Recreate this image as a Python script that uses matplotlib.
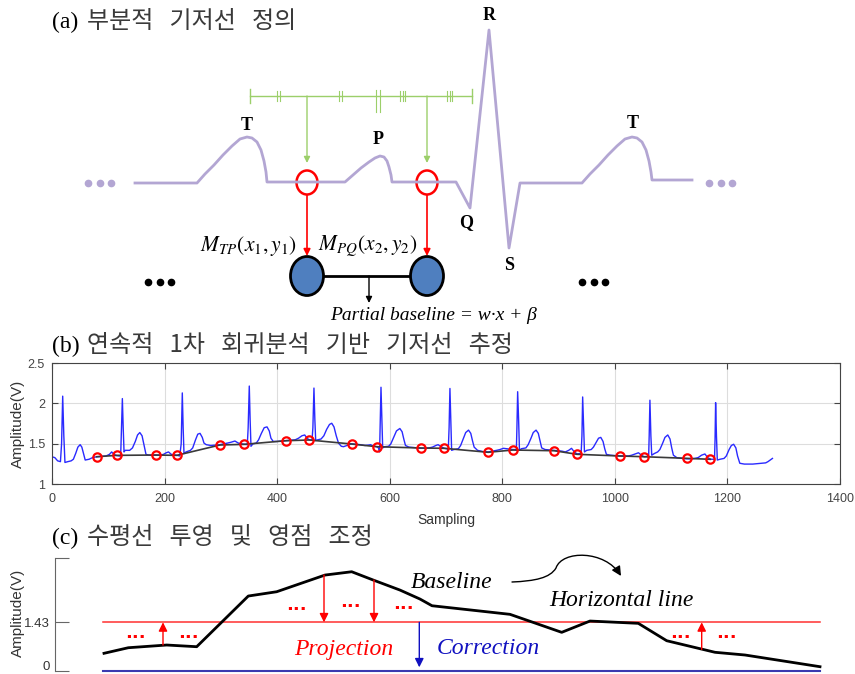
import matplotlib
matplotlib.use("Agg")
import matplotlib.pyplot as plt
from matplotlib.patches import Ellipse, FancyArrowPatch
from matplotlib.path import Path
from matplotlib.transforms import ScaledTranslation

plt.rcParams['mathtext.fontset'] = 'stix'

KR = ['Noto Sans CJK KR', 'DejaVu Sans']
SERIF = 'Liberation Serif'
SANS = 'Liberation Sans'

# ---------------- panel (b) data ----------------
ecg_x = [0, 5, 10, 15, 17, 19, 21, 23, 28, 34, 38, 42, 46, 50, 53, 56, 59, 66, 72, 79,
         88, 96, 102, 106, 110, 115, 120, 122, 123.5, 125, 126.5, 128, 130, 138, 143, 148, 152, 156, 160, 163, 167, 172, 178, 184,
         192, 198, 203, 207, 212, 221, 227, 229.5, 231.5, 233, 234.5, 238, 246, 250, 255, 259, 263, 267, 270, 274, 282, 290, 298,
         305, 312, 318, 325, 331, 341, 347, 348.5, 350.5, 352, 353.5, 357, 363, 367, 372, 377, 382, 386, 389, 393, 400, 408, 416,
         424, 432, 438, 444, 449, 453, 457, 462, 463.5, 465.4, 467, 468.5, 472, 478, 483, 488, 493, 497, 501, 505, 509, 514, 518, 524, 532,
         540, 548, 556, 562, 566, 570, 577, 580, 582, 583, 584.5, 586, 587.5, 591, 598, 602, 607, 612, 618, 622, 625, 628, 634, 642, 650, 655,
         662, 670, 676, 682, 686, 690, 697, 702, 704, 705.5, 707, 708.5, 710, 714, 722, 726, 731, 735, 740, 744, 747, 750, 756, 765, 775,
         783, 790, 796, 802, 808, 814, 819, 823, 825, 826, 827.3, 829, 830.5, 834, 842, 846, 851, 855, 860, 864, 867, 870, 876, 884, 892,
         899, 906, 912, 918, 923, 928, 933, 938, 940, 941.5, 942.8, 944.5, 946, 950, 958, 962, 967, 971, 975, 979, 982, 985, 992, 1000, 1009,
         1016, 1024, 1030, 1036, 1042, 1047, 1052, 1057, 1060, 1061, 1062.3, 1064, 1065.5, 1070, 1076, 1080, 1085, 1089, 1094, 1098, 1101, 1104, 1110, 1120, 1128,
         1135, 1142, 1148, 1154, 1160, 1165, 1170, 1175, 1177, 1178, 1179, 1180.5, 1182, 1187, 1194, 1198, 1203, 1207, 1211, 1215, 1218, 1222, 1230, 1245, 1260, 1268, 1272, 1276, 1280]
ecg_y = [1.34, 1.33, 1.29, 1.28, 1.50, 2.09, 1.60, 1.27, 1.28, 1.29, 1.31, 1.38, 1.46, 1.49, 1.46, 1.38, 1.30, 1.31, 1.33, 1.34,
         1.345, 1.35, 1.37, 1.40, 1.37, 1.355, 1.35, 1.35, 1.70, 2.06, 1.70, 1.40, 1.42, 1.42, 1.45, 1.53, 1.61, 1.64, 1.60, 1.50, 1.37, 1.36, 1.36, 1.36,
         1.36, 1.37, 1.39, 1.40, 1.37, 1.36, 1.35, 1.50, 2.13, 1.70, 1.38, 1.40, 1.42, 1.45, 1.55, 1.62, 1.63, 1.58, 1.51, 1.49, 1.48, 1.485, 1.49,
         1.50, 1.51, 1.52, 1.535, 1.51, 1.495, 1.49, 1.70, 2.215, 1.80, 1.47, 1.50, 1.51, 1.55, 1.63, 1.70, 1.71, 1.66, 1.57, 1.53, 1.53, 1.535, 1.54,
         1.545, 1.55, 1.57, 1.60, 1.61, 1.57, 1.55, 1.545, 1.70, 2.19, 1.80, 1.54, 1.55, 1.56, 1.60, 1.68, 1.74, 1.755, 1.71, 1.60, 1.51, 1.47, 1.465, 1.48, 1.50,
         1.495, 1.49, 1.48, 1.485, 1.49, 1.475, 1.465, 1.45, 1.40, 1.70, 2.20, 1.80, 1.45, 1.465, 1.47, 1.50, 1.58, 1.66, 1.69, 1.65, 1.56, 1.48, 1.46, 1.455, 1.45, 1.445,
         1.445, 1.45, 1.46, 1.48, 1.49, 1.47, 1.445, 1.44, 1.42, 1.70, 2.185, 1.80, 1.42, 1.43, 1.44, 1.48, 1.57, 1.64, 1.67, 1.63, 1.54, 1.46, 1.42, 1.405, 1.40,
         1.41, 1.42, 1.43, 1.445, 1.44, 1.435, 1.43, 1.43, 1.42, 1.70, 2.145, 1.80, 1.42, 1.44, 1.45, 1.49, 1.57, 1.64, 1.67, 1.63, 1.54, 1.45, 1.43, 1.425, 1.42,
         1.415, 1.41, 1.40, 1.42, 1.445, 1.40, 1.375, 1.38, 1.37, 1.60, 2.08, 1.70, 1.40, 1.42, 1.43, 1.46, 1.52, 1.57, 1.58, 1.53, 1.44, 1.37, 1.36, 1.355, 1.35,
         1.35, 1.35, 1.36, 1.375, 1.39, 1.36, 1.34, 1.345, 1.34, 1.60, 2.04, 1.60, 1.36, 1.38, 1.40, 1.43, 1.51, 1.58, 1.61, 1.56, 1.45, 1.36, 1.33, 1.32, 1.315,
         1.315, 1.32, 1.33, 1.36, 1.375, 1.33, 1.31, 1.31, 1.30, 1.55, 2.01, 1.60, 1.30, 1.31, 1.32, 1.35, 1.43, 1.48, 1.495, 1.45, 1.35, 1.26, 1.25, 1.25, 1.26, 1.265, 1.28, 1.30, 1.32]

base_x = [79.4, 114.9, 184.2, 221.5, 298.4, 341.0, 415.7, 457.1, 532.4, 576.8,
          655.0, 697.0, 774.9, 819.0, 892.4, 932.7, 1009.0, 1052.3, 1128.0, 1169.5]
base_y = [1.341, 1.358, 1.362, 1.358, 1.486, 1.494, 1.539, 1.548, 1.498, 1.465,
          1.449, 1.445, 1.396, 1.424, 1.415, 1.371, 1.350, 1.341, 1.321, 1.309]

b_xticks = [0, 200, 400, 600, 800, 1000, 1200, 1400]
b_yticks = [1, 1.5, 2, 2.5]
b_ytick_labels = ['1', '1.5', '2', '2.5']

# ---------------- panel (c) data ----------------
c_base_x = [49, 73.3, 111.7, 141.7, 193.3, 221.7, 270, 296.7, 318.3, 345, 365, 377,
            455, 506.7, 535, 583.3, 611.7, 660, 690, 765]
c_base_y = [0.514, 0.679, 0.759, 0.709, 2.207, 2.334, 2.827, 2.925, 2.679, 2.383, 2.118, 1.920,
            1.666, 1.134, 1.468, 1.400, 0.886, 0.544, 0.464, 0.118]
c_level = 1.43
c_zero = 0.0
c_up_x = [108, 646.7]
c_up_from = [0.76, 0.63]
c_down_x = [269, 319]
c_down_from = [2.83, 2.68]
c_corr_x = 364.3

# ---------------- panel (a) schematic ----------------
a_x = [135, 197, 205, 214, 223, 232, 240, 247, 252, 257, 261, 264, 266, 267,
       345, 353, 361, 369, 375, 380, 384, 387, 389, 391, 392,
       456, 470, 489, 509, 520,
       582, 590, 599, 608, 617, 625, 632, 637, 642, 646, 649, 651, 652, 692]
a_y = [183, 183, 174, 165, 155, 146, 139, 137, 138, 142, 150, 161, 172, 182,
       182, 175, 168, 162, 158, 156, 157, 161, 167, 175, 182,
       182, 208, 30, 248, 183,
       183, 174, 165, 155, 146, 139, 137, 138, 142, 150, 161, 172, 180, 180]

fig = plt.figure(figsize=(8.55, 6.74), dpi=100)
cv = fig.add_axes([0, 0, 1, 1])
cv.set_xlim(0, 855)
cv.set_ylim(674, 0)
cv.axis('off')
cv.patch.set_alpha(0)

# titles
for yy, tag, words in [(21, '(a)', '부분적   기저선   정의'),
                       (345, '(b)', '연속적   1차   회귀분석   기반   기저선   추정'),
                       (537, '(c)', '수평선   투영   및   영점   조정')]:
    cv.text(52, yy + 1, tag, family=SERIF, fontsize=17, ha='left', va='center', color='black')
    cv.text(87, yy, words, family=KR, fontsize=17.3, ha='left', va='center', color='#3a3a3a')

# ECG schematic
lav = '#b3a6d3'
cv.plot(a_x, a_y, color=lav, lw=2, solid_joinstyle='round')
cv.plot([88.3, 99.5, 110.7], [183, 183, 183], 'o', color=lav, ms=4.5)
cv.plot([709.3, 720.5, 731.7], [182.5, 182.5, 182.5], 'o', color=lav, ms=4.5)
cv.plot([148.3, 159.5, 170.7], [282, 282, 282], 'o', color='black', ms=4.5)
cv.plot([582.3, 593.5, 604.7], [282, 282, 282], 'o', color='black', ms=4.5)

for lbl, (lx, ly) in {'T': (247, 125), 'P': (378, 140), 'R': (489, 16),
                      'Q': (466, 223), 'S': (509, 265)}.items():
    cv.text(lx, ly, lbl, family=SERIF, fontweight='bold', fontsize=13, ha='center', va='center')
cv.text(633, 123, 'T', family=SERIF, fontweight='bold', fontsize=13, ha='center', va='center')

# green search window
grn = '#9ccf6a'
cv.plot([250, 472], [96, 96], color=grn, lw=1)
for gx in [250, 472]:
    cv.plot([gx, gx], [89, 103], color=grn, lw=1)
for gx in [277, 280, 339, 342, 400, 402.5, 405, 447, 449.5, 452]:
    cv.plot([gx, gx], [91, 101], color=grn, lw=0.8)
for gx in [376, 380]:
    cv.plot([gx, gx], [90, 112], color=grn, lw=0.8)
for gx in [307, 427]:
    cv.annotate('', xy=(gx, 163), xytext=(gx, 96),
                arrowprops=dict(arrowstyle='-|>', color=grn, lw=1, mutation_scale=9,
                                shrinkA=0, shrinkB=0))
    cv.add_patch(Ellipse((gx, 182.5), 21, 24, fill=False, ec='red', lw=1.8))
    cv.annotate('', xy=(gx, 256), xytext=(gx, 195),
                arrowprops=dict(arrowstyle='-|>', color='red', lw=1.2, mutation_scale=10,
                                shrinkA=0, shrinkB=0))

cv.plot([320, 412], [276, 276], color='black', lw=2)
for gx in [307, 427]:
    cv.add_patch(Ellipse((gx, 276), 33, 39, fc='#4f7fbf', ec='black', lw=2, zorder=3))
cv.annotate('', xy=(369, 303), xytext=(369, 276),
            arrowprops=dict(arrowstyle='-|>', color='black', lw=1, mutation_scale=9,
                            shrinkA=0, shrinkB=0))
cv.text(297, 246, r'$M_{TP}(x_1,y_1)$', fontsize=15.5, ha='right', va='center')
cv.text(318, 246, r'$M_{PQ}(x_2,y_2)$', fontsize=15.5, ha='left', va='center')
cv.text(330, 316, 'Partial baseline = w·x + β', family=SERIF, style='italic',
        fontsize=14, ha='left', va='center')

# ---------------- panel (b) axes ----------------
H = 674.0
axb = fig.add_axes([52 / 855, (H - 484.3) / H, (840 - 52) / 855, (484.3 - 363) / H])
axb.plot(ecg_x, ecg_y, color='#2a2aff', lw=1.0, zorder=2)
axb.plot(base_x, base_y, color='#3a3a3a', lw=1.2, zorder=3)
axb.plot(base_x, base_y, 'o', mfc='none', mec='red', mew=1.6, ms=6, zorder=4)
axb.set_xlim(0, 1400)
axb.set_ylim(1, 2.5)
axb.set_xticks(b_xticks)
axb.set_yticks(b_yticks)
axb.set_yticklabels(b_ytick_labels)
axb.grid(True, color='#dddddd', lw=0.8)
axb.set_axisbelow(True)
axb.tick_params(direction='in', length=4, color='#444444', labelcolor='#444444',
                labelsize=9, top=True, right=True)
axb.tick_params(axis='x', pad=6)
axb.tick_params(axis='y', pad=5)
for lab in axb.get_xticklabels() + axb.get_yticklabels():
    lab.set_family(SANS)
for s in axb.spines.values():
    s.set_color('#444444')
    s.set_linewidth(0.8)
axb.set_xlabel('Sampling', family=SANS, fontsize=10, color='#333333')
axb.xaxis.set_label_coords(0.5, -0.24)
axb.set_ylabel('Amplitude(V)', family=SANS, fontsize=11, color='#333333')
axb.yaxis.label.set_va('center')
axb.yaxis.set_label_coords(-0.043, 0.5)

# ---------------- panel (c) axes ----------------
axc = fig.add_axes([55 / 855, (H - 670.7) / H, (820 - 55) / 855, (670.7 - 557.7) / H])
axc.patch.set_alpha(0)
axc.set_xlim(0, 765)
axc.set_ylim(0, 3.34)
for k in ['top', 'right', 'bottom']:
    axc.spines[k].set_visible(False)
axc.spines['left'].set_color('#666666')
axc.set_xticks([])
axc.set_yticks([0, 1.43, 3.34])
axc.set_yticklabels(['0', '1.43', ''])
axc.tick_params(axis='y', direction='in', length=10, color='#666666', labelcolor='#333333',
                labelsize=9.5, pad=4)
for lab in axc.get_yticklabels():
    lab.set_family(SANS)
zero_lab = axc.get_yticklabels()[0]
zero_lab.set_va('bottom')
zero_lab.set_transform(zero_lab.get_transform() + ScaledTranslation(0, -0.025, fig.dpi_scale_trans))
axc.set_ylabel('Amplitude(V)', family=SANS, fontsize=11, color='#333333')
axc.yaxis.label.set_va('center')
axc.yaxis.set_label_coords(-0.048, 0.51)

axc.plot([48, 765], [c_level, c_level], color='#ff3030', lw=1.1, clip_on=False)
axc.plot([48, 765], [c_zero, c_zero], color='#3a3ab0', lw=1.5, clip_on=False)
axc.plot(c_base_x, c_base_y, color='black', lw=2, clip_on=False, zorder=3)
for x0, v0 in zip(c_up_x + c_down_x, c_up_from + c_down_from):
    axc.annotate('', xy=(x0, c_level), xytext=(x0, v0),
                 arrowprops=dict(arrowstyle='-|>', color='red', lw=1, mutation_scale=13,
                                 shrinkA=0, shrinkB=0))
axc.annotate('', xy=(c_corr_x, 0.1), xytext=(c_corr_x, c_level),
             arrowprops=dict(arrowstyle='-|>', color='#1010c0', lw=1, mutation_scale=13,
                             shrinkA=0, shrinkB=0))

for dx, dy in [(135, 638.3), (188.3, 638.3), (296.7, 610), (350, 607.3), (403.3, 609.3),
               (680, 637.7), (726, 637.7)]:
    cv.text(dx, dy, '···', color='red', fontsize=13, fontweight='bold',
            ha='center', va='center', family='DejaVu Sans')

cv.text(452, 582, 'Baseline', family=SERIF, style='italic', fontsize=17, ha='center', va='center')
cv.text(621, 600, 'Horizontal line', family=SERIF, style='italic', fontsize=17, ha='center', va='center')
cv.text(344, 650, 'Projection', family=SERIF, style='italic', fontsize=17, ha='center', va='center',
        color='red')
cv.text(488, 648, 'Correction', family=SERIF, style='italic', fontsize=17, ha='center', va='center',
        color='#1010c0')

curve = Path([(512, 582), (535, 581), (550, 578), (556, 568),
              (562, 550), (605, 550), (621, 576)],
             [Path.MOVETO, Path.CURVE4, Path.CURVE4, Path.CURVE4,
              Path.CURVE4, Path.CURVE4, Path.CURVE4])
cv.add_patch(FancyArrowPatch(path=curve, arrowstyle='-|>', mutation_scale=14,
                             color='black', lw=1))

fig.savefig('out.png', dpi=100)
